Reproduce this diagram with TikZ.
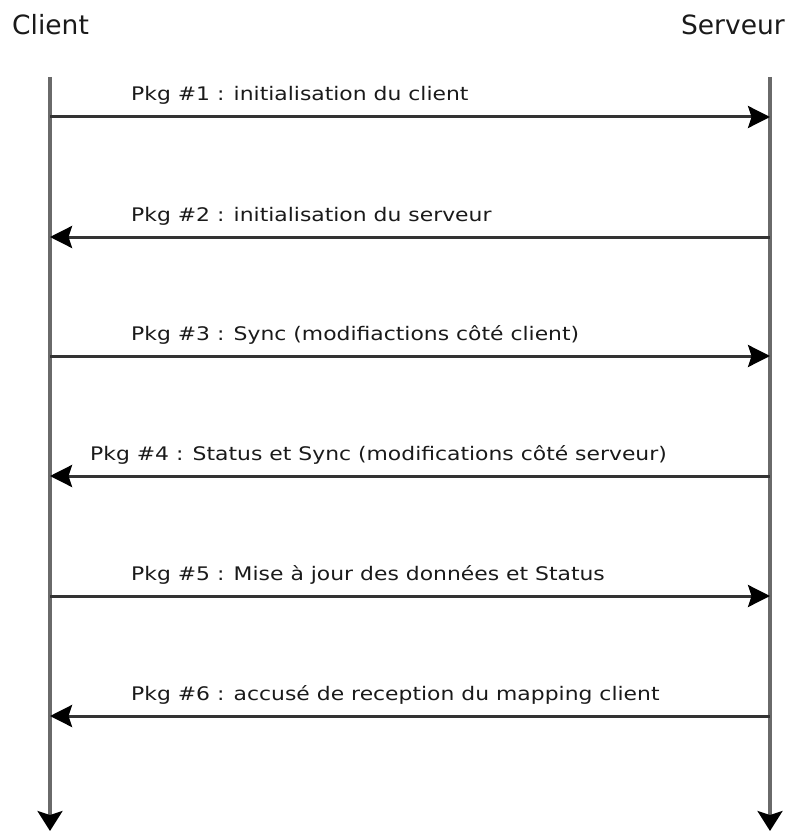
\documentclass[tikz,border=0pt]{standalone}
\usepackage{fontspec}
\setmainfont{DejaVu Sans}
\newfontfamily\lblfont[FakeStretch=1.17]{DejaVu Sans}
\usetikzlibrary{arrows.meta}
\definecolor{txt}{HTML}{1A1A1A}
\definecolor{life}{HTML}{6A6A6A}
\definecolor{msgc}{HTML}{333333}
\tikzset{
  actor/.style={inner sep=0pt, text=txt, font=\fontsize{26.5}{30}\selectfont},
  lifeline/.style={draw=life, line width=3.2pt, -{Stealth[length=20pt,width=25pt,inset=4pt,color=black]}},
  msgline/.style={draw=msgc, line width=3pt, -{Stealth[length=22pt,width=22pt,inset=3.5pt,color=black]}},
  lbl/.style={inner sep=0pt, anchor=base west, text=txt, font=\lblfont\fontsize{18.7}{22}\selectfont}
}
\begin{document}
\begin{tikzpicture}[x=1pt,y=-1pt]
\useasboundingbox (0,0) rectangle (797,832);
\node[actor, anchor=base west] (client) at (12,35) {Client};
\node[actor, anchor=base east] (serveur) at (785,35) {Serveur};
\coordinate (c0) at (50,77);
\coordinate (cE) at (50,831);
\coordinate (s0) at (770,77);
\coordinate (sE) at (770,831);
\draw[lifeline] (c0) -- (cE);
\draw[lifeline] (s0) -- (sE);
\foreach \i/\y in {1/117,2/237,3/356,4/476,5/596,6/716}{
  \coordinate (c\i) at (50,\y);
  \coordinate (s\i) at (770,\y);
}
\draw[msgline] (c1) -- (s1);
\draw[msgline] (s2) -- (c2);
\draw[msgline] (c3) -- (s3);
\draw[msgline] (s4) -- (c4);
\draw[msgline] (c5) -- (s5);
\draw[msgline] (s6) -- (c6);
\node[lbl] (l1) at (131,101) {Pkg \#1 : initialisation du client};
\node[lbl] (l2) at (131,221) {Pkg \#2 : initialisation du serveur};
\node[lbl] (l3) at (131,340) {Pkg \#3 : Sync (modifiactions côté client)};
\node[lbl] (l4) at (90,460) {Pkg \#4 : Status et Sync (modifications côté serveur)};
\node[lbl] (l5) at (131,580) {Pkg \#5 : Mise à jour des données et Status};
\node[lbl] (l6) at (131,700) {Pkg \#6 : accusé de reception du mapping client};
\end{tikzpicture}
\end{document}
